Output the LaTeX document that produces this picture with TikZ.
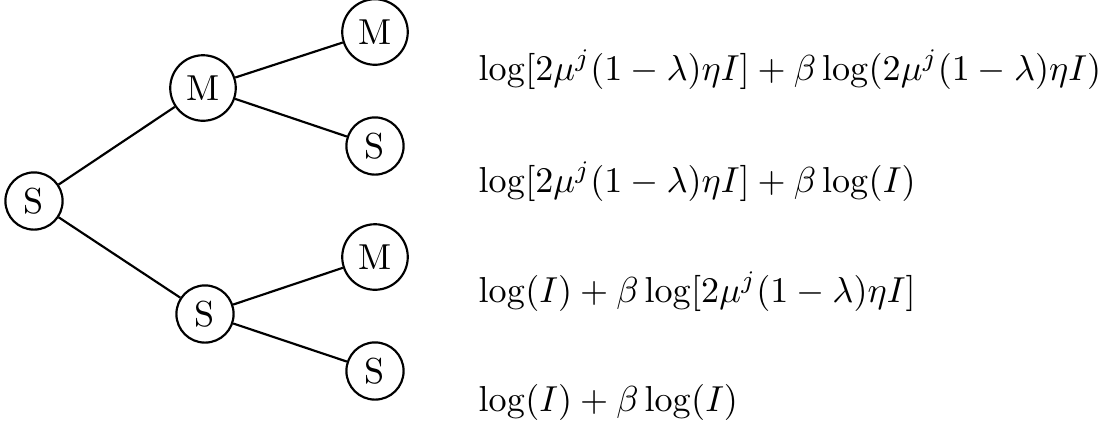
\documentclass[tikz,border=0pt]{standalone}
\usepackage{amsmath}
\begin{document}
\begin{tikzpicture}[x=0.277pt,y=-0.277pt,
  state/.style={circle,draw,semithick,inner sep=2.4pt},
  branch/.style={semithick},
  payoff/.style={anchor=base west,inner sep=0pt}]
\useasboundingbox (0,0) rectangle (1109,429);
\node[state] (r)  at (34,201) {S};
\node[state] (m1) at (203,88) {M};
\node[state] (s1) at (205,314) {S};
\node[state] (mm) at (375,32) {M};
\node[state] (ms) at (375,146) {S};
\node[state] (sm) at (375,257) {M};
\node[state] (ss) at (375,371) {S};
\draw[branch] (r) -- (m1);
\draw[branch] (r) -- (s1);
\draw[branch] (m1) -- (mm);
\draw[branch] (m1) -- (ms);
\draw[branch] (s1) -- (sm);
\draw[branch] (s1) -- (ss);
\node[payoff] (p1) at (478,80) {$\log[2\mu^j(1-\lambda)\eta I]+\beta\log(2\mu^j(1-\lambda)\eta I)$};
\node[payoff] (p2) at (478,192) {$\log[2\mu^j(1-\lambda)\eta I]+\beta\log(I)$};
\node[payoff] (p3) at (478,302) {$\log(I)+\beta\log[2\mu^j(1-\lambda)\eta I]$};
\node[payoff] (p4) at (478,411) {$\log(I)+\beta\log(I)$};
\end{tikzpicture}
\end{document}
